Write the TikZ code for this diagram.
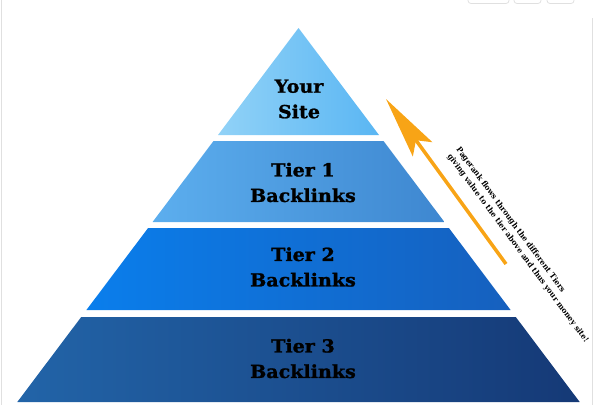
\documentclass[tikz,border=0pt]{standalone}
\usepackage{fontspec}
\usepackage{tikz}
\usetikzlibrary{arrows.meta, positioning}
\newfontface\tierfont[FakeBold=1.2, FakeStretch=1.06]{DejaVu Serif Bold}
\newfontface\notefont[FakeStretch=0.95]{DejaVu Serif Bold}
\definecolor{siteL}{RGB}{145,210,247}
\definecolor{siteR}{RGB}{90,182,243}
\definecolor{tierAL}{RGB}{92,174,238}
\definecolor{tierAR}{RGB}{62,135,208}
\definecolor{tierBL}{RGB}{10,126,236}
\definecolor{tierBR}{RGB}{22,96,190}
\definecolor{tierCL}{RGB}{34,100,168}
\definecolor{tierCR}{RGB}{21,57,118}
\definecolor{flowOrange}{RGB}{248,164,22}

\begin{document}
\begin{tikzpicture}[x=1pt, y=-1pt,
     T/.style = {align=center, inner sep=0pt, text=black,
                 font=\tierfont\fontsize{18}{25.5}\selectfont},
  note/.style = {align=left, inner sep=0pt, rotate=-53.6, anchor=north west,
                 font=\notefont\fontsize{7.8}{11}\selectfont},
  flow/.style = {draw=flowOrange, line width=3.5pt,
                 -{Stealth[length=62pt, width=24pt, inset=11pt]}},
chrome/.style = {draw=black!12, line width=0.8pt}
]
  \useasboundingbox (0,0) rectangle (594,405);

  % page frame
  \draw[chrome] (1.5,0) -- (1.5,405);
  \draw[chrome] (592.5,18) -- (592.5,405);
  \draw[chrome, rounded corners=3pt] (468,-8) rectangle (509,3.5);
  \draw[chrome, rounded corners=3pt] (514,-8) rectangle (541,3.5);
  \draw[chrome, rounded corners=3pt] (547,-8) rectangle (574,3.5);

  % LEVEL 0 (TOP)
  \shade[left color=siteL, right color=siteR]
    (298.5,28) -- (379,135) -- (218,135) -- cycle;
  % LEVEL -1
  \shade[left color=tierAL, right color=tierAR]
    (213.5,141) -- (383.5,141) -- (444.4,222) -- (152.6,222) -- cycle;
  % LEVEL -2
  \shade[left color=tierBL, right color=tierBR]
    (148.1,228) -- (448.9,228) -- (510.6,310) -- (86.4,310) -- cycle;
  % LEVEL -3
  \shade[left color=tierCL, right color=tierCR]
    (81.2,317) -- (515.8,317) -- (579.7,402) -- (17.3,402) -- cycle;

  % Labels
  \node[T] (site)  at (299,99)    {Your\\Site};
  \node[T] (tier1) at (303,182.5) {Tier 1\\Backlinks};
  \node[T] (tier2) at (303,267)   {Tier 2\\Backlinks};
  \node[T] (tier3) at (303,358.5) {Tier 3\\Backlinks};

  % Pagerank arrow
  \coordinate (flowtail) at (506,264);
  \coordinate (flowtip)  at (386,99);
  \draw[flow] (flowtail) -- (flowtip);
  \node[note] (flowtext) at (461,146)
    {Pagerank flows through the different Tiers\\giving value to the tier above and thus your money site!};
\end{tikzpicture}
\end{document}
